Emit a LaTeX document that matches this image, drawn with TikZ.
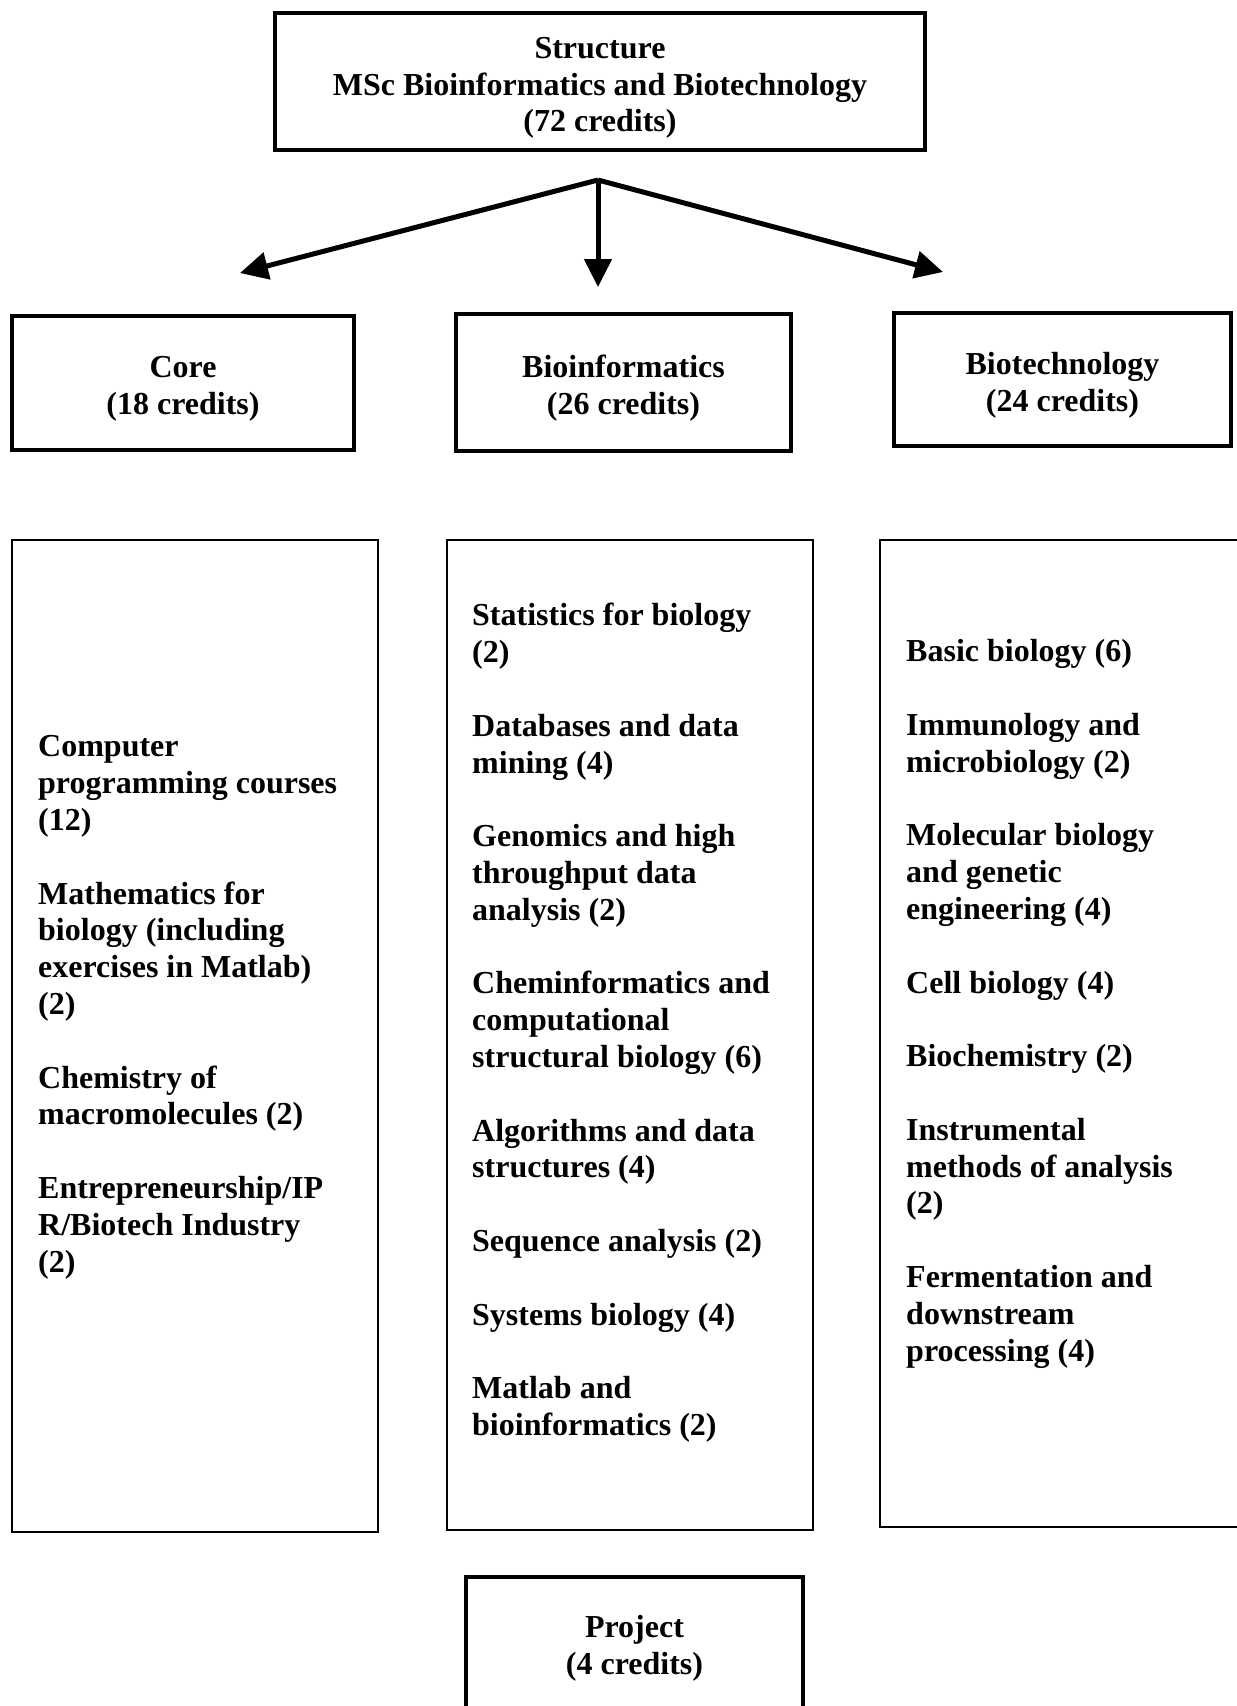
\documentclass[tikz,border=0pt]{standalone}
\usepackage{fontspec}
\setmainfont{Liberation Serif}
\usetikzlibrary{arrows.meta}
\tikzset{
  box/.style={draw, line width=3.2pt, align=center, inner sep=0pt},
  listbox/.style={box, line width=2.4pt},
  items/.style={align=left, inner sep=0pt, anchor=north west},
  branch/.style={line width=5pt, -{Triangle[length=28pt,width=27pt]}}
}
\begin{document}
\begin{tikzpicture}[x=1pt, y=-1pt, font=\fontsize{32}{36.8}\selectfont\bfseries]
  \path[use as bounding box] (0,0) rectangle (1237,1706);
  \clip (0,0) rectangle (1237,1706);
  \draw
    (600,81.5) node[box, minimum width=650pt, minimum height=137pt] (msc)
      {\rule{0pt}{34pt}Structure\\MSc Bioinformatics and Biotechnology\\(72 credits)}
    (183,383) node[box, minimum width=342pt, minimum height=134pt] (core)
      {\rule{0pt}{33pt}Core\\(18 credits)}
    (623.5,382.5) node[box, minimum width=335pt, minimum height=137pt] (bioinf)
      {\rule{0pt}{33pt}Bioinformatics\\(26 credits)}
    (1062.5,379.5) node[box, minimum width=337pt, minimum height=133pt] (biotech)
      {\rule{0pt}{34pt}Biotechnology\\(24 credits)}
    (195,1036) node[listbox, minimum width=366pt, minimum height=992pt] (corelist) {}
    (630,1035) node[listbox, minimum width=366pt, minimum height=990pt] (bioinflist) {}
    (1070,1033.5) node[listbox, minimum width=380pt, minimum height=987pt] (biotechlist) {}
    (634.5,1645) node[box, minimum width=337pt, minimum height=136pt] (project)
      {\rule{0pt}{28pt}Project\\(4 credits)};
  \node[items] (coreitems) at (38,731)
    {\strut Computer\\programming courses\\(12)\\[36.8pt]
     Mathematics for\\biology (including\\exercises in Matlab)\\(2)\\[36.8pt]
     Chemistry of\\macromolecules (2)\\[36.8pt]
     Entrepreneurship/IP\\R/Biotech Industry\\(2)};
  \node[items] (bioinfitems) at (472,600)
    {\strut Statistics for biology\\(2)\\[36.8pt]
     Databases and data\\mining (4)\\[36.8pt]
     Genomics and high\\throughput data\\analysis (2)\\[36.8pt]
     Cheminformatics and\\computational\\structural biology (6)\\[36.8pt]
     Algorithms and data\\structures (4)\\[36.8pt]
     Sequence analysis (2)\\[36.8pt]
     Systems biology (4)\\[36.8pt]
     Matlab and\\bioinformatics (2)};
  \node[items] (biotechitems) at (906,636)
    {\strut Basic biology (6)\\[36.8pt]
     Immunology and\\microbiology (2)\\[36.8pt]
     Molecular biology\\and genetic\\engineering (4)\\[36.8pt]
     Cell biology (4)\\[36.8pt]
     Biochemistry (2)\\[36.8pt]
     Instrumental\\methods of analysis\\(2)\\[36.8pt]
     Fermentation and\\downstream\\processing (4)};
  \coordinate (split) at (598,180);
  \coordinate (coretip) at (240,273);
  \coordinate (bioinftip) at (598,287);
  \coordinate (biotechtip) at (943,272);
  \begin{scope}[branch]
    \draw (split) to (coretip);
    \draw (split) to (bioinftip);
    \draw (split) to (biotechtip);
  \end{scope}
\end{tikzpicture}
\end{document}
